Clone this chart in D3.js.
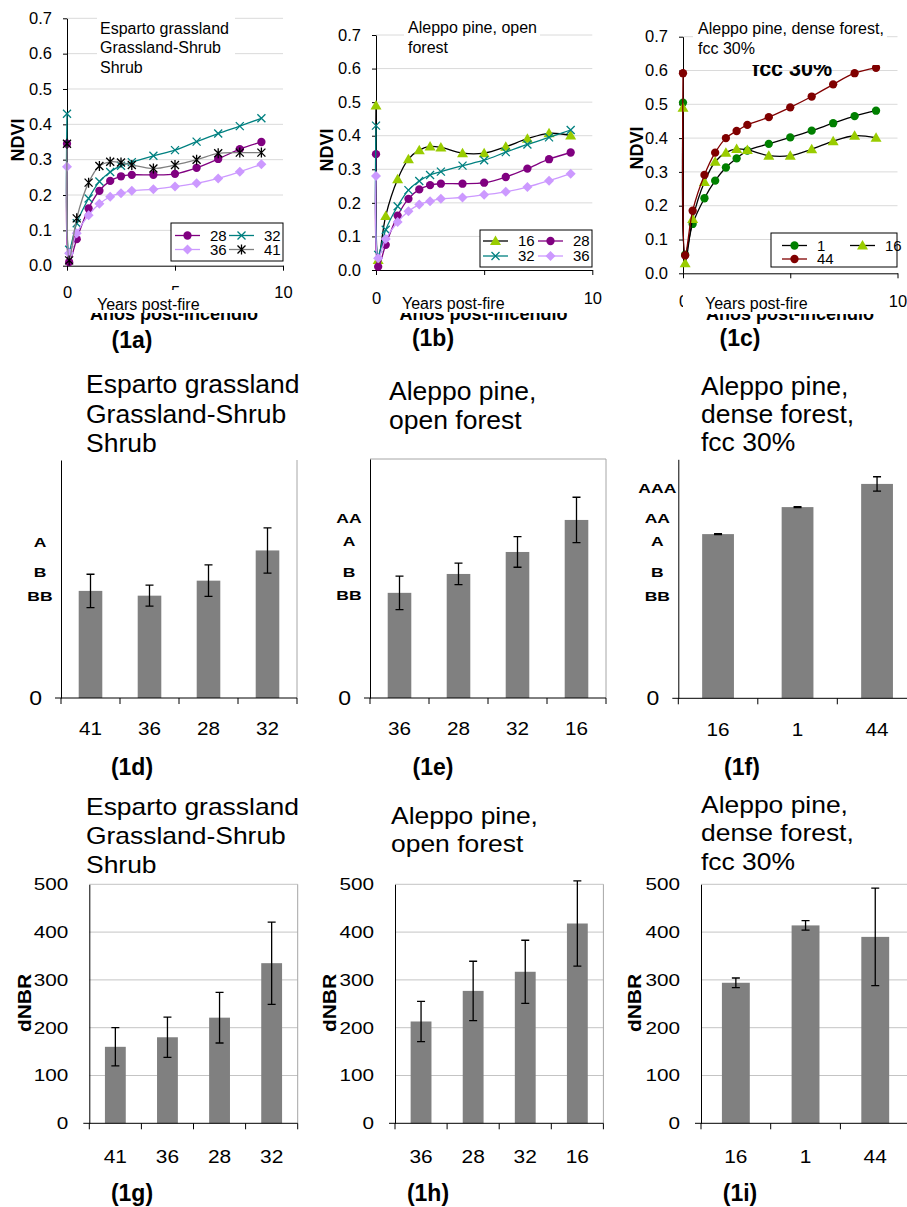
<!DOCTYPE html>
<html>
<head>
<meta charset="utf-8">
<script src="https://cdn.jsdelivr.net/npm/d3@7"></script>
<style>
  body { margin: 0; background: #fff; }
  svg { display: block; font-family: "Liberation Sans", Arial, sans-serif; }
</style>
</head>
<body>
<svg id="fig" width="907" height="1207"></svg>
<script>
// NDVI time series, years after the fire
const yearsPostFire = [0, 0.1, 0.45, 1, 1.5, 2, 2.5, 3, 4, 5, 6, 7, 8, 9];
const ndvi1  = [0.505, 0.055, 0.146, 0.222, 0.274, 0.313, 0.34, 0.363, 0.383, 0.402, 0.422, 0.444, 0.465, 0.481];
const ndvi16 = [0.49, 0.03, 0.161, 0.27, 0.33, 0.357, 0.368, 0.365, 0.348, 0.348, 0.367, 0.391, 0.407, 0.401];
const ndvi28 = [0.345, 0.01, 0.075, 0.162, 0.212, 0.24, 0.253, 0.257, 0.257, 0.26, 0.277, 0.302, 0.33, 0.35];
const ndvi32 = [0.43, 0.045, 0.12, 0.19, 0.238, 0.265, 0.283, 0.293, 0.311, 0.327, 0.351, 0.374, 0.395, 0.417];
const ndvi36 = [0.28, 0.035, 0.092, 0.143, 0.175, 0.195, 0.205, 0.212, 0.216, 0.224, 0.233, 0.247, 0.266, 0.287];
const ndvi41 = [0.345, 0.015, 0.134, 0.235, 0.282, 0.294, 0.292, 0.285, 0.275, 0.285, 0.30, 0.318, 0.32, 0.32];
const ndvi44 = [0.592, 0.053, 0.185, 0.291, 0.357, 0.4, 0.421, 0.439, 0.462, 0.491, 0.523, 0.559, 0.592, 0.608];

// site order of the bar charts
const sitesGrass = ["41", "36", "28", "32"];
const sitesOpen  = ["36", "28", "32", "16"];
const sitesDense = ["16", "1", "44"];

// middle row (relative height of the axis, no numeric scale shown)
const relGrass = [0.45, 0.43, 0.493, 0.62];
const relGrassErr = [0.07, 0.044, 0.066, 0.095];
const relOpen = [0.44, 0.519, 0.611, 0.745];
const relOpenErr = [0.07, 0.045, 0.064, 0.095];
const relDense = [0.687, 0.80, 0.897];
const relDenseErr = [0.002, 0.002, 0.03];
const groupLetters = ["AAA", "AA", "A", "B", "BB"];
const groupLevels  = [0.88, 0.752, 0.655, 0.528, 0.428];

// bottom row dNBR
const dnbrGrass = [160, 180, 221, 335];
const dnbrGrassErr = [40, 42, 53, 86];
const dnbrOpen = [213, 277, 317, 418];
const dnbrOpenErr = [42, 62, 66, 89];
const dnbrDense = [294, 414, 390];
const dnbrDenseErr = [10, 10, 102];
const dnbrTicks = [0, 100, 200, 300, 400, 500];

const seriesStyle = {
  "1":  { color: "#008000", line: "#000000", marker: "circle" },
  "16": { color: "#99cc00", line: "#000000", marker: "triangle" },
  "28": { color: "#800080", line: "#800080", marker: "circle" },
  "32": { color: "#008080", line: "#008080", marker: "x" },
  "36": { color: "#cc99ff", line: "#cc99ff", marker: "diamond" },
  "41": { color: "#000000", line: "#808080", marker: "star" },
  "44": { color: "#800000", line: "#800000", marker: "circle" }
};
const markerPaths = {
  circle: d3.symbol(d3.symbolCircle, 54)(),
  diamond: "M0,-5L5,0L0,5L-5,0Z",
  triangle: "M0,-5.5L5.5,4L-5.5,4Z",
  x: "M-4,-4L4,4M-4,4L4,-4",
  star: "M-4,-4L4,4M-4,4L4,-4M0,-5L0,5"
};

const svg = d3.select("#fig");
svg.append("rect").attr("width", 907).attr("height", 1207).attr("fill", "#fff");

function label(g, x, y, s, o = {}) {
  let tr = `translate(${x},${y})`;
  if (o.rot) tr += ` rotate(${o.rot})`;
  if (o.sx) tr += ` scale(${o.sx},1)`;
  return g.append("text")
      .attr("transform", tr)
      .attr("font-size", o.size || 16)
      .attr("font-weight", o.bold ? "bold" : null)
      .attr("text-anchor", o.anchor || "start")
      .attr("dy", o.dy || null)
      .attr("fill", "#000")
      .text(s);
}

function styleAxis(sel, size, sx) {
  sel.attr("font-family", null).attr("font-size", null);
  sel.select(".domain").attr("stroke", "#000");
  sel.selectAll(".tick line").attr("stroke", "#000");
  sel.selectAll("text").attr("font-size", size).attr("fill", "#000");
  if (sx) sel.selectAll("text").each(function() {
    const t = d3.select(this);
    t.attr("x", (+t.attr("x") || 0) / sx).attr("transform", `scale(${sx},1)`);
  });
}

function markerStyle(sel, s) {
  const stroked = s.marker === "x" || s.marker === "star";
  sel.attr("d", markerPaths[s.marker])
      .attr("fill", stroked ? "none" : s.color)
      .attr("stroke", stroked ? s.color : "none")
      .attr("stroke-width", 1.3);
}

function whiteBox(g, b) {
  g.append("rect").attr("x", b[0]).attr("y", b[1]).attr("width", b[2]).attr("height", b[3]).attr("fill", "#fff");
}

function ndviPanel(p) {
  const g = svg.append("g");
  const x = d3.scaleLinear().domain([0, 10]).range([p.xl, p.xr]);
  const y = d3.scaleLinear().domain([0, 0.7]).range([p.yb, p.yt]);
  const yTicks = d3.range(0, 8).map(i => i / 10);

  g.append("g").selectAll("line").data(yTicks.slice(1)).join("line")
      .attr("x1", p.xl).attr("x2", p.xr)
      .attr("y1", d => y(d)).attr("y2", d => y(d))
      .attr("stroke", "#dadada");

  g.append("g").attr("transform", `translate(${p.xl},0)`)
      .call(d3.axisLeft(y).tickValues(yTicks).tickFormat(d3.format(".1f"))
        .tickSize(4).tickSizeOuter(0).tickPadding(11))
      .call(styleAxis, 16.5);
  g.append("g").attr("transform", `translate(0,${p.yb})`)
      .call(d3.axisBottom(x).tickValues([0, 5, 10]).tickSize(5).tickSizeOuter(0).tickPadding(p.xPad))
      .call(styleAxis, 16.5);

  const line = d3.line()
      .x((d, i) => x(yearsPostFire[i]))
      .y(d => y(d))
      .curve(d3.curveCatmullRom.alpha(0.5));

  p.series.forEach(([name, vals]) => {
    const s = seriesStyle[name];
    g.append("path").attr("d", line(vals))
        .attr("fill", "none").attr("stroke", s.line).attr("stroke-width", 1.3);
    g.append("g").selectAll("path").data(vals).join("path")
        .attr("transform", (d, i) => `translate(${x(yearsPostFire[i])},${y(d)})`)
        .call(markerStyle, s);
  });

  // legend
  const L = p.legend;
  const lg = g.append("g").attr("transform", `translate(${L.x},${L.y})`);
  lg.append("rect").attr("width", L.w).attr("height", L.h).attr("fill", "#fff").attr("stroke", "#000");
  p.series.forEach(([name], k) => {
    const s = seriesStyle[name];
    const cx = L.cols[k % 2], cy = L.rows[Math.floor(k / 2)];
    lg.append("line").attr("x1", cx).attr("x2", cx + 25).attr("y1", cy).attr("y2", cy)
        .attr("stroke", s.line).attr("stroke-width", 1.3);
    lg.append("path").attr("transform", `translate(${cx + 12.5},${cy})`).call(markerStyle, s);
    label(lg, cx + 35, cy, name, { size: 15, dy: "0.35em" });
  });

  // leftover text hidden behind the boxes of the original figure
  if (p.hidden) label(g, p.hidden[0], p.hidden[1], p.hidden[2], { size: 21.5, bold: true });
  whiteBox(g, p.titleBox);
  p.title.forEach((t, i) => label(g, p.titleX, p.titleY[i], t, { size: 16 }));

  label(g, p.oldX, 320, "Años post-incendio", { size: 18, bold: true, anchor: "middle" });
  whiteBox(g, p.xBox);
  label(g, p.xlabX, p.xlabY, "Years post-fire", { size: 16 });

  label(g, p.ylab[0], p.ylab[1], "NDVI", { size: 18, bold: true, rot: -90, anchor: "middle", dy: "0.35em" });
  label(g, p.tag[0], p.tag[1], p.tag[2], { size: 23, bold: true, anchor: "middle" });
}

function barPanel(p) {
  const g = svg.append("g");
  const n = p.sites.length;
  const xEnd = p.xl + n * p.step;
  const x = d3.scaleBand().domain(p.sites).range([p.xl, xEnd]).paddingInner(0.6).paddingOuter(0.3);
  const y = d3.scaleLinear().domain(p.domain).range([p.yb, p.yt]);
  const data = p.sites.map((s, i) => ({ site: s, v: p.vals[i], e: p.errs[i] }));

  if (p.grid) g.append("g").selectAll("line").data(p.grid).join("line")
      .attr("x1", p.xl).attr("x2", xEnd)
      .attr("y1", d => y(d)).attr("y2", d => y(d))
      .attr("stroke", "#c4c4c4");
  if (p.border.includes("top")) g.append("line")
      .attr("x1", p.xl).attr("x2", xEnd).attr("y1", p.yt).attr("y2", p.yt).attr("stroke", "#a6a6a6");
  if (p.border.includes("right")) g.append("line")
      .attr("x1", xEnd).attr("x2", xEnd).attr("y1", p.yt).attr("y2", p.yb).attr("stroke", "#a6a6a6");

  g.append("g").selectAll("rect").data(data).join("rect")
      .attr("x", d => x(d.site)).attr("width", x.bandwidth())
      .attr("y", d => y(d.v)).attr("height", d => p.yb - y(d.v))
      .attr("fill", "#808080");

  g.append("g").selectAll("path").data(data).join("path")
      .attr("d", d => {
        const cx = x(d.site) + x.bandwidth() / 2, hi = y(d.v + d.e), lo = y(d.v - d.e);
        return `M${cx - 4},${hi}h8M${cx},${hi}V${lo}M${cx - 4},${lo}h8`;
      })
      .attr("fill", "none").attr("stroke", "#000").attr("stroke-width", 1.3);

  g.append("g").attr("transform", `translate(${p.xl},0)`)
      .call(d3.axisLeft(y).tickValues(p.ticks).tickFormat(d3.format("d"))
        .tickSize(0).tickSizeOuter(0).tickPadding(p.gap))
      .call(styleAxis, p.tickSize, p.tickSx);

  const xa = g.append("g").attr("transform", `translate(0,${p.yb})`)
      .call(d3.axisBottom(x).tickSize(0).tickSizeOuter(0).tickPadding(p.xPad))
      .call(styleAxis, p.xSize, p.xSx);
  xa.select(".domain").remove();
  xa.append("line").attr("x1", p.xl - 6).attr("x2", xEnd).attr("stroke", "#000");
  xa.append("g").selectAll("line").data(d3.range(n + 1)).join("line")
      .attr("x1", i => p.xl + i * x.step()).attr("x2", i => p.xl + i * x.step())
      .attr("y1", 0).attr("y2", 6).attr("stroke", "#000");

  if (p.letters) p.letters.forEach(l => {
    const v = groupLevels[groupLetters.indexOf(l)];
    label(g, p.xl - 21, y(v), l, { size: 13.5, bold: true, anchor: "middle", dy: "0.35em", sx: 1.3 });
  });
  if (p.ylab) label(g, p.ylab[0], p.ylab[1], "dNBR", { size: 18, bold: true, rot: -90, anchor: "middle", dy: "0.35em", sx: 1.16 });

  p.title.forEach((t, i) => label(g, p.titleX, p.titleY[i], t, { size: p.titleSize, sx: p.titleSx }));
  label(g, p.tag[0], p.tag[1], p.tag[2], { size: 23, bold: true, anchor: "middle" });
}

// top row: NDVI recovery curves
ndviPanel({
  xl: 67, xr: 283, yt: 18.3, yb: 265.7, xPad: 16,
  series: [["28", ndvi28], ["32", ndvi32], ["36", ndvi36], ["41", ndvi41]],
  legend: { x: 171, y: 223, w: 112, h: 38, cols: [4, 58], rows: [12.5, 26.5] },
  titleBox: [97, 14, 138, 64], titleX: 100, titleY: [33.5, 53, 72.5],
  title: ["Esparto grassland", "Grassland-Shrub", "Shrub"],
  oldX: 174, xBox: [80, 290, 185, 23], xlabX: 97, xlabY: 309.5,
  ylab: [18, 140], tag: [132, 348, "(1a)"]
});
ndviPanel({
  xl: 376, xr: 592.3, yt: 35, yb: 270, xPad: 17,
  series: [["16", ndvi16], ["28", ndvi28], ["32", ndvi32], ["36", ndvi36]],
  legend: { x: 480, y: 230, w: 112, h: 37, cols: [3, 58], rows: [11, 26] },
  titleBox: [404, 17, 136, 40], titleX: 408, titleY: [33, 52.5],
  title: ["Aleppo pine, open", "forest"],
  oldX: 483.5, xBox: [384, 289, 190, 24], xlabX: 402, xlabY: 309,
  ylab: [327, 150], tag: [433, 346, "(1b)"]
});
ndviPanel({
  xl: 683, xr: 897.5, yt: 36.7, yb: 273.3, xPad: 17,
  series: [["1", ndvi1], ["16", ndvi16], ["44", ndvi44]],
  legend: { x: 771, y: 233, w: 126, h: 34, cols: [11, 79], rows: [12.5, 26] },
  hidden: [752, 75.5, "fcc 30%"],
  titleBox: [693, 14, 194, 51], titleX: 698, titleY: [33.5, 53.5],
  title: ["Aleppo pine, dense forest,", "fcc 30%"],
  oldX: 790, xBox: [683, 290, 197, 24], xlabX: 705, xlabY: 309,
  ylab: [637, 148], tag: [740, 346, "(1c)"]
});

// middle row: relative groups
const midCommon = {
  domain: [0, 1], ticks: [0], tickSize: 20, tickSx: 1.15, gap: 19,
  xSize: 18, xSx: 1.15, xPad: 24.7, titleSize: 25, titleSx: 1.06
};
barPanel(Object.assign({}, midCommon, {
  sites: sitesGrass, vals: relGrass, errs: relGrassErr,
  xl: 61, step: 59, yt: 460, yb: 698, border: ["right"], letters: ["A", "B", "BB"],
  title: ["Esparto grassland", "Grassland-Shrub", "Shrub"], titleX: 86, titleY: [393, 423, 452],
  tag: [132, 775, "(1d)"]
}));
barPanel(Object.assign({}, midCommon, {
  sites: sitesOpen, vals: relOpen, errs: relOpenErr,
  xl: 370, step: 59, yt: 459, yb: 698, border: ["top", "right"], letters: ["AA", "A", "B", "BB"],
  title: ["Aleppo pine,", "open forest"], titleX: 389, titleY: [400, 429],
  tag: [433, 775, "(1e)"]
}));
barPanel(Object.assign({}, midCommon, {
  sites: sitesDense, vals: relDense, errs: relDenseErr,
  xl: 678.3, step: 79.5, yt: 459.3, yb: 698.3, border: [], letters: groupLetters,
  title: ["Aleppo pine,", "dense forest,", "fcc 30%"], titleX: 701, titleY: [395, 423, 451],
  tag: [742, 775, "(1f)"]
}));

// bottom row: dNBR
const botCommon = {
  domain: [0, 500], ticks: dnbrTicks, grid: dnbrTicks.slice(1), tickSize: 17, tickSx: 1.22, gap: 21,
  xSize: 19, xSx: 1.1, xPad: 26.7, titleSize: 23, titleSx: 1.15, yt: 884.3, yb: 1123.3
};
barPanel(Object.assign({}, botCommon, {
  sites: sitesGrass, vals: dnbrGrass, errs: dnbrGrassErr,
  xl: 89.3, step: 52.1, border: ["right"], ylab: [25, 1003],
  title: ["Esparto grassland", "Grassland-Shrub", "Shrub"], titleX: 86, titleY: [815, 844, 873],
  tag: [132, 1201, "(1g)"]
}));
barPanel(Object.assign({}, botCommon, {
  sites: sitesOpen, vals: dnbrOpen, errs: dnbrOpenErr,
  xl: 395, step: 52.1, border: ["right"], ylab: [330, 1003],
  title: ["Aleppo pine,", "open forest"], titleX: 391, titleY: [824, 852],
  tag: [428, 1201, "(1h)"]
}));
barPanel(Object.assign({}, botCommon, {
  sites: sitesDense, vals: dnbrDense, errs: dnbrDenseErr,
  xl: 701, step: 69.7, border: [], ylab: [635, 1003],
  title: ["Aleppo pine,", "dense forest,", "fcc 30%"], titleX: 701, titleY: [813, 841, 870],
  tag: [740, 1201, "(1i)"]
}));
</script>
</body>
</html>
